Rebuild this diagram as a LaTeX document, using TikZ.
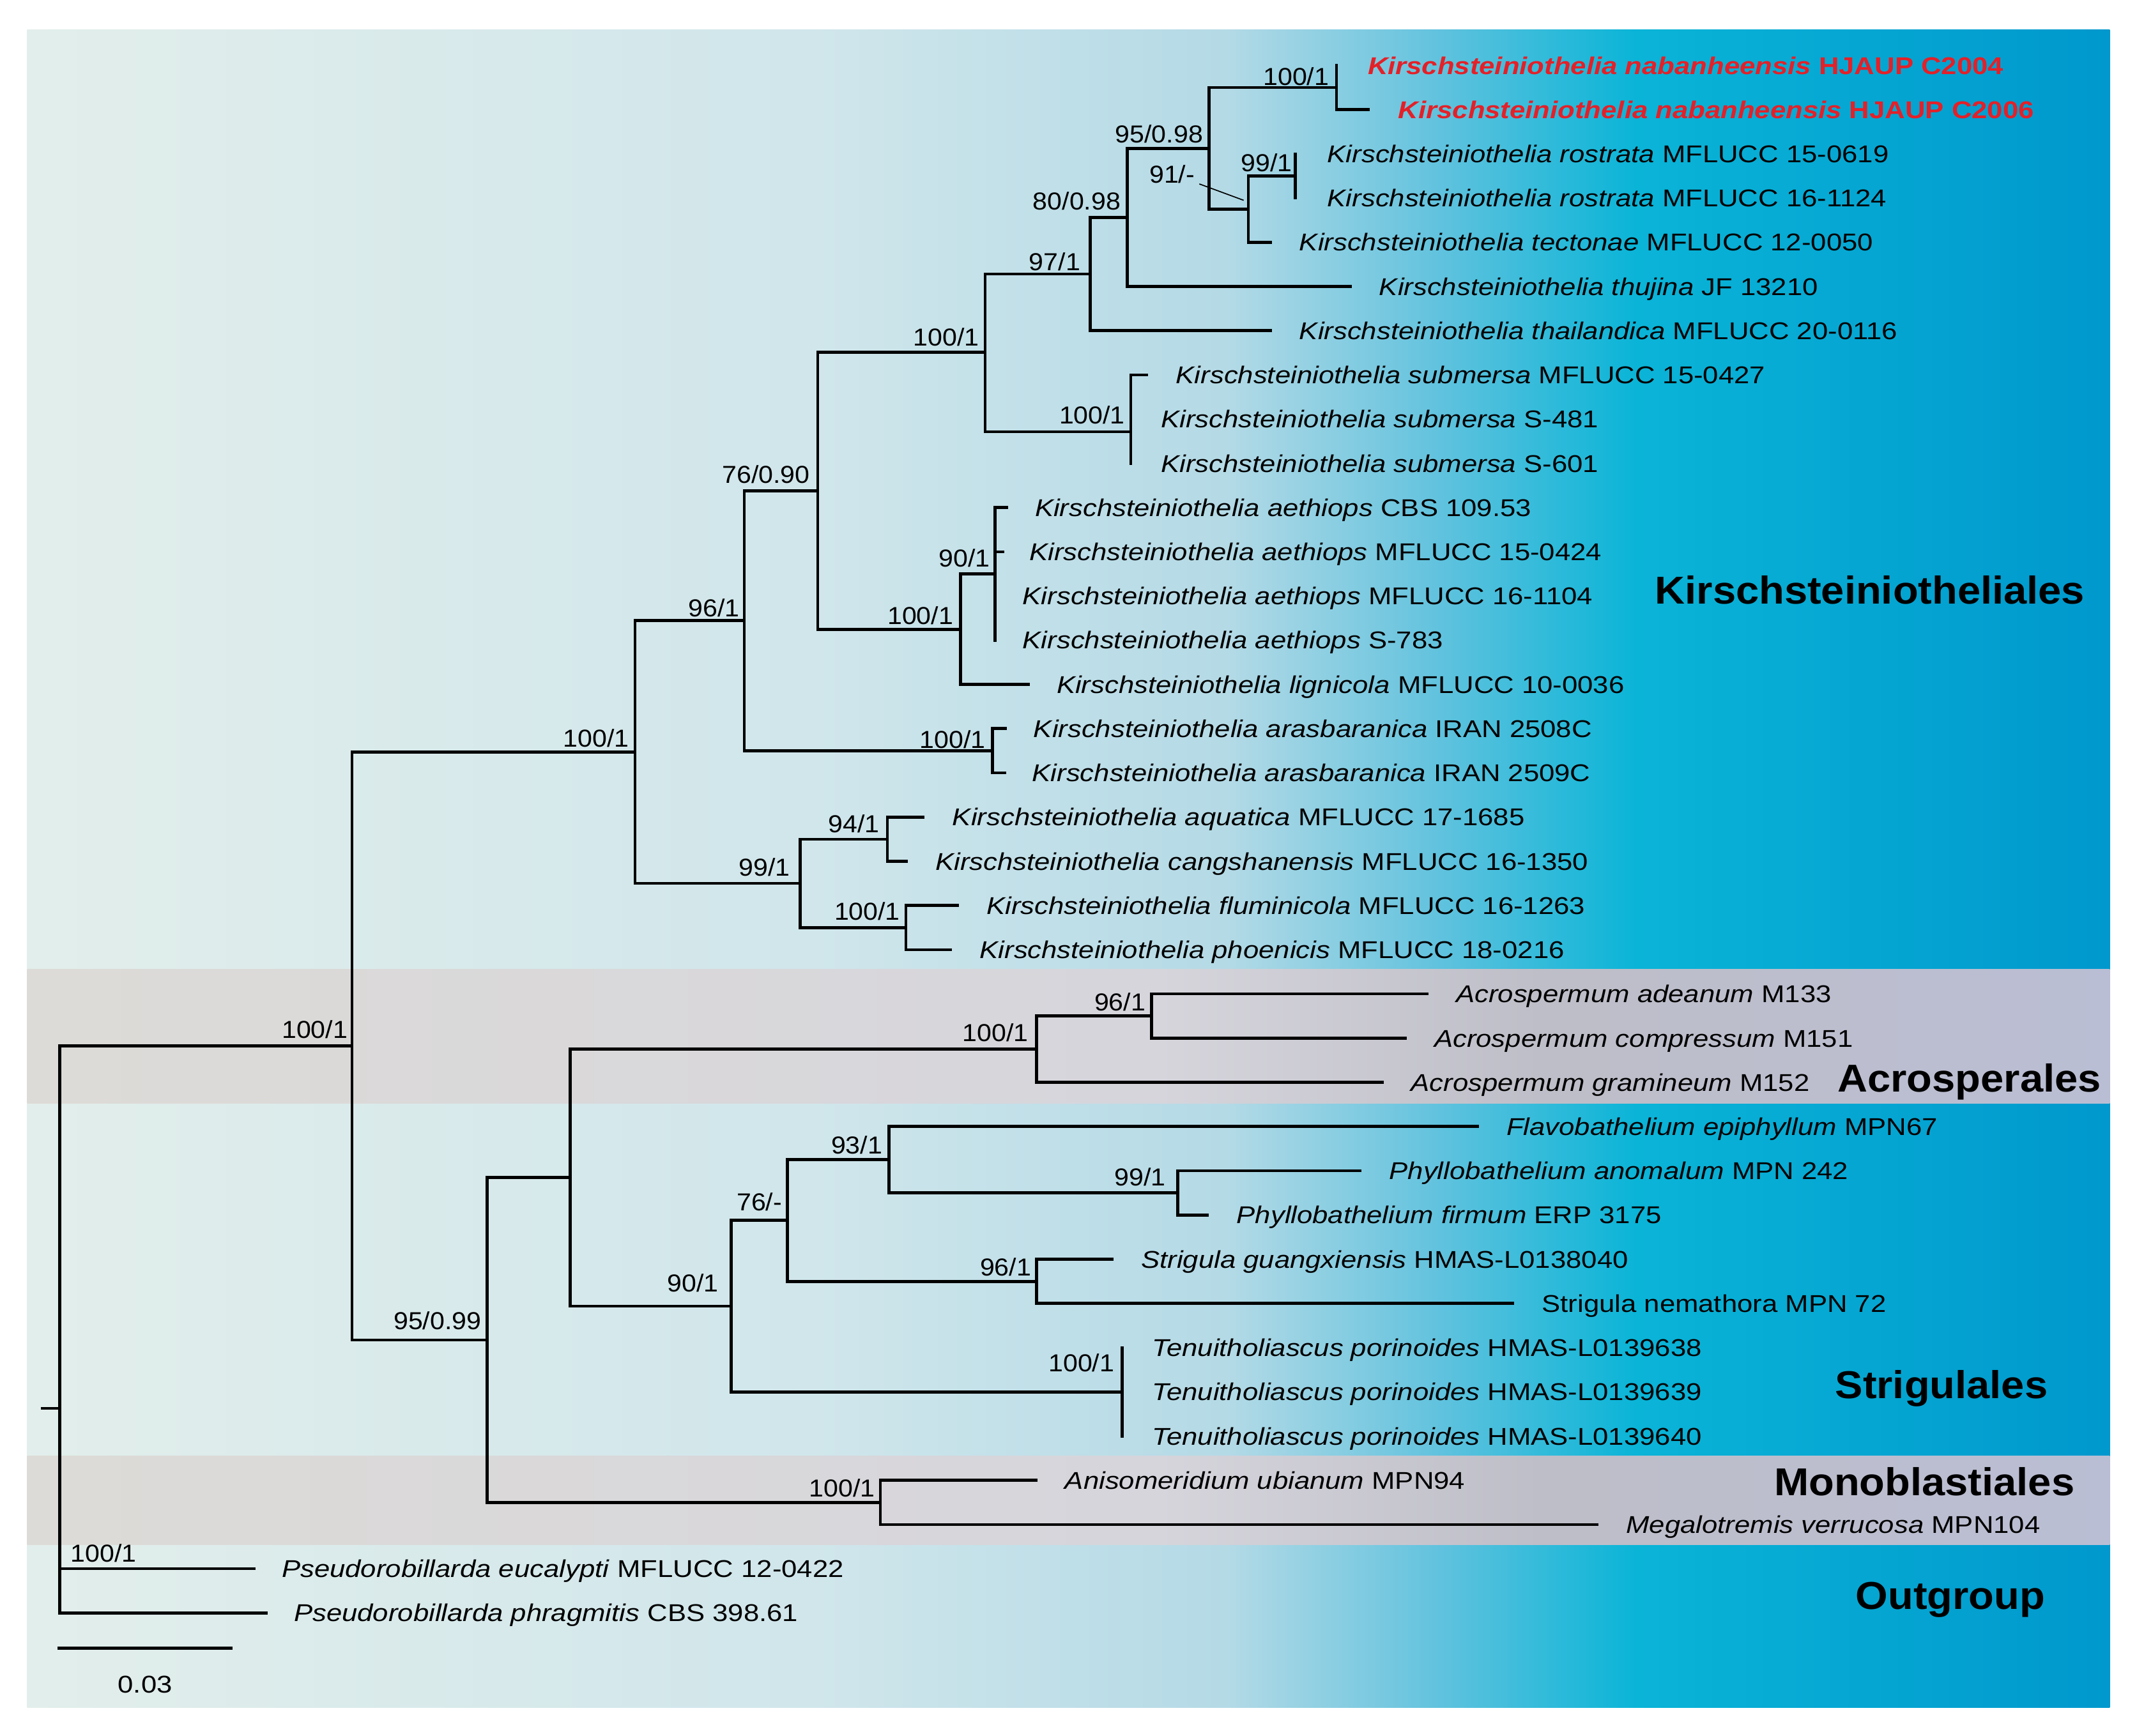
\documentclass[tikz,border=0pt]{standalone}
\usepackage{fontspec}
\setmainfont{Liberation Sans}[FakeStretch=1.07]
\newfontfamily\taxfont{Liberation Sans}[FakeStretch=1.15]
\definecolor{bgA}{RGB}{226,238,235}
\definecolor{bgB}{RGB}{208,230,235}
\definecolor{bgC}{RGB}{180,218,230}
\definecolor{bgD}{RGB}{100,195,222}
\definecolor{bgE}{RGB}{10,180,215}
\definecolor{bgF}{RGB}{0,152,205}
\definecolor{bdA}{RGB}{221,219,215}
\definecolor{bdB}{RGB}{214,213,220}
\definecolor{bdC}{RGB}{190,190,200}
\definecolor{bdD}{RGB}{186,190,212}
\definecolor{redtx}{RGB}{228,32,40}
\newcommand{\spn}[2]{\textit{#1} #2}
\tikzset{
  br/.style={line width=1.1pt, line cap=rect, black},
  leader/.style={line width=0.4pt, black},
  taxlab/.style={anchor=base west, inner sep=0pt, yshift=-3.2pt, font=\taxfont\fontsize{8.9}{10}\selectfont},
  redlab/.style={taxlab, text=redtx, font=\taxfont\bfseries\fontsize{8.9}{10}\selectfont},
  suplab/.style={anchor=base east, inner sep=0pt, yshift=-3.2pt, font=\fontsize{9.0}{10}\selectfont},
  cladelab/.style={anchor=base, inner sep=0pt, yshift=-5.1pt, font=\bfseries\fontsize{14.25}{16}\selectfont},
}
\begin{document}
\begin{tikzpicture}[x=0.5pt,y=-0.5pt]
\useasboundingbox (0,0) rectangle (1568,1274);
\fill[white] (0,0) rectangle (1568,1274);
% background gradient
\shade[left color=bgA, right color=bgB] (20,22) rectangle (601,1253);
\shade[left color=bgB, right color=bgC] (600,22) rectangle (901,1253);
\shade[left color=bgC, right color=bgD] (900,22) rectangle (1051,1253);
\shade[left color=bgD, right color=bgE] (1050,22) rectangle (1201,1253);
\shade[left color=bgE, right color=bgF] (1200,22) rectangle (1548,1253);
% grey bands
\foreach \ya/\yb in {711.5/809.6, 1068.4/1133.5}{
  \shade[left color=bdA, right color=bdB] (20,\ya) rectangle (851,\yb);
  \shade[left color=bdB, right color=bdC] (850,\ya) rectangle (1131,\yb);
  \shade[left color=bdC, right color=bdD] (1130,\ya) rectangle (1548,\yb);
}
% ---------- internal nodes ----------
\coordinate (R0) at (31.3,1033.6);
\coordinate (R) at (43.7,1033.6);
\coordinate (N1001) at (258.3,767.7);
\coordinate (N100k) at (466,551.9);
\coordinate (N96) at (546.1,455.5);
\coordinate (N7690) at (600,360.1);
\coordinate (N100a) at (722.8,258.4);
\coordinate (N97) at (800,201.1);
\coordinate (N8098) at (827,159.6);
\coordinate (N9598) at (887,108.9);
\coordinate (Nnab) at (980.6,64.2);
\coordinate (N91) at (916,153.5);
\coordinate (Nrost) at (950.5,129.1);
\coordinate (Nsub) at (829.7,316.9);
\coordinate (Naeth) at (704.9,461.8);
\coordinate (N901) at (730,421.2);
\coordinate (Naras) at (728.3,551);
\coordinate (N99) at (587.2,648.3);
\coordinate (N94) at (651.1,615.9);
\coordinate (N100b) at (664.7,680.8);
\coordinate (N9599) at (357.3,983.4);
\coordinate (NX) at (418.2,864.3);
\coordinate (Nacro) at (760.5,770);
\coordinate (N96a) at (844.9,745.7);
\coordinate (Nstri) at (536.5,958.6);
\coordinate (N76) at (577.8,895.7);
\coordinate (N93) at (652.4,851.1);
\coordinate (N99p) at (864,875.5);
\coordinate (N96s) at (760.7,940.4);
\coordinate (Ntenu) at (823.5,1021.5);
\coordinate (Nmono) at (646,1102.6);
% ---------- tips ----------
\coordinate (t1) at (980.6,48);
\coordinate (t2) at (1004,80.45);
\coordinate (t3) at (950.5,112.9);
\coordinate (t4) at (950.5,145.35);
\coordinate (t5) at (932,177.8);
\coordinate (t6) at (991,210.25);
\coordinate (t7) at (932,242.7);
\coordinate (t8) at (841.4,275.15);
\coordinate (t9) at (829.7,307.6);
\coordinate (t10) at (829.7,340.05);
\coordinate (t11) at (738.6,372.5);
\coordinate (t12) at (736,404.95);
\coordinate (t13) at (730,437.4);
\coordinate (t14) at (730,469.85);
\coordinate (t15) at (754.4,502.3);
\coordinate (t16) at (737.8,534.75);
\coordinate (t17) at (737,567.2);
\coordinate (t18) at (677,599.65);
\coordinate (t19) at (665,632.1);
\coordinate (t20) at (702.7,664.55);
\coordinate (t21) at (697.4,697);
\coordinate (t22) at (1047,729.45);
\coordinate (t23) at (1031,761.9);
\coordinate (t24) at (1014,794.35);
\coordinate (t25) at (1084,826.8);
\coordinate (t26) at (998,859.25);
\coordinate (t27) at (886,891.7);
\coordinate (t28) at (816,924.15);
\coordinate (t29) at (1110,956.6);
\coordinate (t30) at (823.5,989.05);
\coordinate (t31) at (823.5,1021.5);
\coordinate (t32) at (823.5,1053.95);
\coordinate (t33) at (760,1086.4);
\coordinate (t34) at (1171.7,1118.85);
\coordinate (t35) at (186.2,1151.3);
\coordinate (t36) at (195.2,1183.75);
% ---------- branches ----------
\draw[br] (R0) -- (R);
\foreach \p/\c in {R/N1001, R/t35, R/t36,
  N1001/N100k, N1001/N9599,
  N100k/N96, N100k/N99,
  N96/N7690, N96/Naras,
  N7690/N100a, N7690/Naeth,
  N100a/N97, N100a/Nsub,
  N97/N8098, N97/t7,
  N8098/N9598, N8098/t6,
  N9598/Nnab, N9598/N91,
  Nnab/t1, Nnab/t2,
  N91/Nrost, N91/t5,
  Nrost/t3, Nrost/t4,
  Nsub/t8, Nsub/t9, Nsub/t10,
  Naeth/N901, Naeth/t15,
  N901/t11, N901/t12, N901/t13, N901/t14,
  Naras/t16, Naras/t17,
  N99/N94, N99/N100b,
  N94/t18, N94/t19,
  N100b/t20, N100b/t21,
  N9599/NX, N9599/Nmono,
  NX/Nacro, NX/Nstri,
  Nacro/N96a, Nacro/t24,
  N96a/t22, N96a/t23,
  Nstri/N76, Nstri/Ntenu,
  N76/N93, N76/N96s,
  N93/t25, N93/N99p,
  N99p/t26, N99p/t27,
  N96s/t28, N96s/t29,
  Ntenu/t30, Ntenu/t31, Ntenu/t32,
  Nmono/t33, Nmono/t34}
  {\draw[br] (\p) |- (\c);}
% ---------- support values ----------
\node[suplab] (s1) at (975.5,56) {100/1};
\node[suplab] (s2) at (883,98.5) {95/0.98};
\node[suplab] (s3) at (948.6,119.5) {99/1};
\node[suplab] (s4) at (877,128) {91/-};
\node[suplab] (s5) at (822.6,147.7) {80/0.98};
\node[suplab] (s6) at (793,192.2) {97/1};
\node[suplab] (s7) at (718.8,247.2) {100/1};
\node[suplab] (s8) at (825.8,304.7) {100/1};
\node[suplab] (s9) at (594.5,348) {76/0.90};
\node[suplab] (s10) at (726.7,409.5) {90/1};
\node[suplab] (s11) at (699.8,452) {100/1};
\node[suplab] (s12) at (723.6,542.6) {100/1};
\node[suplab] (s13) at (543,446) {96/1};
\node[suplab] (s14) at (462,542) {100/1};
\node[suplab] (s15) at (580,636.7) {99/1};
\node[suplab] (s16) at (645.7,604.7) {94/1};
\node[suplab] (s17) at (660.8,668.8) {100/1};
\node[suplab] (s18) at (255.4,755.5) {100/1};
\node[suplab] (s19) at (754.8,757.8) {100/1};
\node[suplab] (s20) at (840.9,735.2) {96/1};
\node[suplab] (s21) at (353.5,969.3) {95/0.99};
\node[suplab] (s22) at (647.8,840.3) {93/1};
\node[suplab] (s23) at (574.2,882.3) {76/-};
\node[suplab] (s24) at (527.6,941.6) {90/1};
\node[suplab] (s25) at (757,929.7) {96/1};
\node[suplab] (s26) at (855.8,864) {99/1};
\node[suplab] (s27) at (818,1000.2) {100/1};
\node[suplab] (s28) at (642.3,1092.2) {100/1};
\node[suplab, anchor=base west] (s29) at (51.6,1140) {100/1};
% leader for 91/-
\coordinate (ldA) at (880,135);
\coordinate (ldB) at (912.5,147);
\draw[leader] (ldA) -- (ldB);
% ---------- taxa ----------
\node[redlab] (l1) at (1003.2,48) {\textit{Kirschsteiniothelia nabanheensis} HJAUP C2004};
\node[redlab] (l2) at (1025.6,80.45) {\textit{Kirschsteiniothelia nabanheensis} HJAUP C2006};
\node[taxlab] (l3) at (973.6,112.9) {\spn{Kirschsteiniothelia rostrata}{MFLUCC 15-0619}};
\node[taxlab] (l4) at (973.6,145.35) {\spn{Kirschsteiniothelia rostrata}{MFLUCC 16-1124}};
\node[taxlab] (l5) at (953,177.8) {\spn{Kirschsteiniothelia tectonae}{MFLUCC 12-0050}};
\node[taxlab] (l6) at (1011.6,210.25) {\spn{Kirschsteiniothelia thujina}{JF 13210}};
\node[taxlab] (l7) at (953,242.7) {\spn{Kirschsteiniothelia thailandica}{MFLUCC 20-0116}};
\node[taxlab] (l8) at (862.5,275.15) {\spn{Kirschsteiniothelia submersa}{MFLUCC 15-0427}};
\node[taxlab] (l9) at (851.6,307.6) {\spn{Kirschsteiniothelia submersa}{S-481}};
\node[taxlab] (l10) at (851.6,340.05) {\spn{Kirschsteiniothelia submersa}{S-601}};
\node[taxlab] (l11) at (759,372.5) {\spn{Kirschsteiniothelia aethiops}{CBS 109.53}};
\node[taxlab] (l12) at (755,404.95) {\spn{Kirschsteiniothelia aethiops}{MFLUCC 15-0424}};
\node[taxlab] (l13) at (750,437.4) {\spn{Kirschsteiniothelia aethiops}{MFLUCC 16-1104}};
\node[taxlab] (l14) at (750,469.85) {\spn{Kirschsteiniothelia aethiops}{S-783}};
\node[taxlab] (l15) at (775,502.3) {\spn{Kirschsteiniothelia lignicola}{MFLUCC 10-0036}};
\node[taxlab] (l16) at (758,534.75) {\spn{Kirschsteiniothelia arasbaranica}{IRAN 2508C}};
\node[taxlab] (l17) at (757,567.2) {\spn{Kirschsteiniothelia arasbaranica}{IRAN 2509C}};
\node[taxlab] (l18) at (698.5,599.65) {\spn{Kirschsteiniothelia aquatica}{MFLUCC 17-1685}};
\node[taxlab] (l19) at (686,632.1) {\spn{Kirschsteiniothelia cangshanensis}{MFLUCC 16-1350}};
\node[taxlab] (l20) at (723.5,664.55) {\spn{Kirschsteiniothelia fluminicola}{MFLUCC 16-1263}};
\node[taxlab] (l21) at (718.5,697) {\spn{Kirschsteiniothelia phoenicis}{MFLUCC 18-0216}};
\node[taxlab] (l22) at (1068,729.45) {\spn{Acrospermum adeanum}{M133}};
\node[taxlab] (l23) at (1052,761.9) {\spn{Acrospermum compressum}{M151}};
\node[taxlab] (l24) at (1035,794.35) {\spn{Acrospermum gramineum}{M152}};
\node[taxlab] (l25) at (1105,826.8) {\spn{Flavobathelium epiphyllum}{MPN67}};
\node[taxlab] (l26) at (1019,859.25) {\spn{Phyllobathelium anomalum}{MPN 242}};
\node[taxlab] (l27) at (907,891.7) {\spn{Phyllobathelium firmum}{ERP 3175}};
\node[taxlab] (l28) at (837,924.15) {\spn{Strigula guangxiensis}{HMAS-L0138040}};
\node[taxlab] (l29) at (1131,956.6) {Strigula nemathora MPN 72};
\node[taxlab] (l30) at (845,989.05) {\spn{Tenuitholiascus porinoides}{HMAS-L0139638}};
\node[taxlab] (l31) at (845,1021.5) {\spn{Tenuitholiascus porinoides}{HMAS-L0139639}};
\node[taxlab] (l32) at (845,1053.95) {\spn{Tenuitholiascus porinoides}{HMAS-L0139640}};
\node[taxlab] (l33) at (781,1086.4) {\spn{Anisomeridium ubianum}{MPN94}};
\node[taxlab] (l34) at (1192.8,1118.85) {\spn{Megalotremis verrucosa}{MPN104}};
\node[taxlab] (l35) at (206.4,1151.3) {\spn{Pseudorobillarda eucalypti}{MFLUCC 12-0422}};
\node[taxlab] (l36) at (215.3,1183.75) {\spn{Pseudorobillarda phragmitis}{CBS 398.61}};
% ---------- clade labels ----------
\node[cladelab] (c1) at (1372,433) {Kirschsteiniotheliales};
\node[cladelab] (c2) at (1445,791) {Acrosperales};
\node[cladelab] (c3) at (1424.5,1016) {Strigulales};
\node[cladelab] (c4) at (1412,1087.5) {Monoblastiales};
\node[cladelab] (c5) at (1431,1171) {Outgroup};
% ---------- scale bar ----------
\coordinate (sbA) at (43.5,1209.5);
\coordinate (sbB) at (169.6,1209.5);
\draw[br] (sbA) -- (sbB);
\node[taxlab, anchor=base] (sbl) at (106.5,1236) {0.03};
\end{tikzpicture}
\end{document}
